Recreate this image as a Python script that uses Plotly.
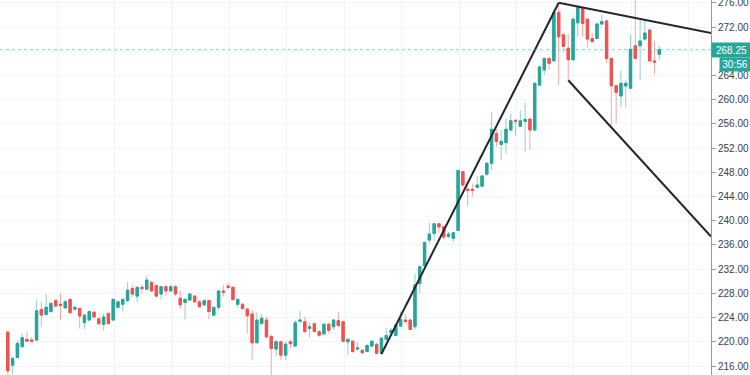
import plotly.graph_objects as go

opens = [221.6, 216.15, 217.4, 219.2, 220.4, 220.3, 220.29, 225.36, 224.5, 225.0,
         226.8, 226.2, 225.6, 227.0, 225.4, 225.5, 223.15, 223.6, 224.9, 223.8,
         222.9, 224.7, 223.6, 225.7, 226.2, 226.8, 228.8, 227.55, 229.0, 228.7,
         229.8, 229.3, 227.9, 229.1, 228.4, 229.1, 227.2, 226.5, 226.9, 227.55,
         226.6, 226.1, 226.8, 224.4, 225.7, 228.4, 229.2, 229.0, 226.2, 226.2,
         225.4, 224.6, 219.85, 223.0, 223.6, 220.9, 218.8, 220.0, 217.8, 220.0,
         219.3, 223.4, 223.3, 222.2, 223.0, 221.7, 221.3, 222.9, 222.5, 223.5,
         223.3, 220.0, 220.1, 218.8, 218.6, 218.4, 219.3, 219.6, 218.1, 220.4,
         221.5, 221.05, 222.6, 223.6, 223.6, 222.5, 229.6, 232.6, 236.8, 237.9,
         239.5, 239.0, 237.4, 237.1, 238.4, 248.1, 245.2, 245.2, 245.5, 245.7,
         247.7, 249.5, 254.4, 252.6, 252.9, 255.0, 256.6, 255.6, 256.4, 256.8,
         255.0, 262.4, 264.9, 266.8, 266.4, 274.4, 270.7, 268.5, 266.6, 272.7,
         275.2, 273.3, 270.1, 270.1, 272.5, 273.0, 266.8, 262.3, 260.6, 262.25,
         261.9, 268.9, 268.9, 270.0, 271.5, 266.4, 267.5]
highs = [221.8, 217.6, 220.2, 221.4, 221.7, 220.8, 226.9, 226.6, 227.9, 226.6,
         227.0, 228.0, 227.0, 227.2, 225.9, 225.6, 224.7, 225.1, 225.0, 224.0,
         224.7, 224.8, 227.2, 226.8, 227.2, 229.9, 229.4, 229.1, 229.4, 231.0,
         230.1, 229.4, 229.2, 229.5, 229.5, 229.4, 228.4, 227.3, 228.0, 227.7,
         226.8, 227.0, 226.9, 225.8, 228.55, 229.4, 229.7, 229.1, 227.2, 226.45,
         225.5, 225.3, 224.9, 224.6, 224.1, 221.1, 220.3, 220.1, 220.0, 220.4,
         223.6, 225.1, 224.1, 223.2, 223.1, 221.9, 223.1, 223.2, 223.7, 224.9,
         223.3, 220.6, 220.2, 219.9, 218.8, 219.6, 220.3, 219.7, 220.8, 222.3,
         222.3, 223.0, 225.0, 224.6, 223.8, 231.3, 232.6, 236.6, 239.7, 239.7,
         239.6, 239.1, 238.2, 238.2, 248.4, 248.2, 245.9, 246.2, 247.4, 247.6,
         249.6, 258.0, 255.1, 255.0, 256.9, 257.7, 256.75, 258.2, 259.5, 256.9,
         262.8, 265.6, 267.0, 267.0, 274.7, 276.0, 271.0, 270.8, 273.4, 275.4,
         275.4, 273.4, 271.0, 272.7, 274.0, 273.2, 267.0, 262.4, 264.8, 263.2,
         270.7, 276.4, 273.2, 273.0, 271.6, 269.7, 268.9]
lows = [214.6, 214.6, 217.3, 218.9, 220.0, 220.0, 220.2, 222.5, 224.4, 224.8,
        225.8, 223.6, 225.5, 224.7, 225.2, 222.2, 222.1, 223.5, 224.0, 222.8,
        221.9, 222.9, 223.5, 225.5, 225.0, 226.6, 227.45, 226.6, 228.0, 228.55,
        228.3, 227.3, 227.0, 227.6, 228.3, 227.55, 225.5, 223.7, 226.8, 226.45,
        225.7, 225.9, 223.7, 224.3, 225.2, 227.45, 228.6, 226.8, 225.6, 225.3,
        221.4, 217.0, 219.7, 222.9, 220.7, 214.5, 217.6, 217.0, 217.0, 218.9,
        219.2, 223.2, 221.4, 220.7, 221.6, 220.8, 221.1, 221.3, 222.0, 222.4,
        219.95, 217.8, 218.2, 218.5, 218.0, 218.3, 219.1, 218.0, 217.9, 220.2,
        221.3, 220.9, 222.5, 223.1, 221.9, 222.0, 228.0, 232.4, 236.2, 236.7,
        238.0, 236.9, 237.1, 236.4, 238.3, 245.7, 242.4, 244.0, 245.3, 245.5,
        247.4, 248.4, 252.2, 250.0, 251.1, 254.7, 253.9, 255.5, 251.4, 251.7,
        254.7, 262.3, 264.1, 264.9, 266.3, 262.4, 267.9, 263.2, 266.4, 270.4,
        270.4, 268.5, 269.4, 270.0, 272.3, 266.0, 255.5, 256.1, 258.8, 258.7,
        261.7, 266.7, 263.2, 269.7, 266.3, 264.2, 266.5]
closes = [215.2, 217.26, 219.74, 220.67, 220.1, 220.1, 225.13, 224.42, 225.7, 226.35,
          225.9, 226.0, 226.6, 224.8, 225.7, 224.25, 224.4, 225.0, 224.1, 223.0,
          224.1, 223.0, 227.0, 226.6, 227.0, 228.55, 227.9, 229.0, 228.8, 230.2,
          228.4, 227.55, 229.1, 228.4, 229.1, 227.9, 226.1, 227.0, 227.9, 226.6,
          225.8, 226.8, 225.0, 225.7, 228.4, 228.2, 229.0, 227.0, 227.0, 225.5,
          224.3, 219.85, 223.6, 223.9, 220.8, 218.9, 220.0, 217.8, 219.6, 219.7,
          223.15, 223.6, 221.7, 222.5, 221.7, 221.1, 222.9, 221.9, 223.6, 222.7,
          220.1, 220.4, 218.4, 219.0, 218.2, 219.4, 220.1, 218.1, 220.6, 221.05,
          221.9, 222.8, 223.7, 223.35, 222.05, 229.4, 232.4, 236.4, 237.8, 239.5,
          239.0, 237.3, 237.8, 238.0, 248.3, 245.9, 245.0, 245.0, 245.9, 247.4,
          249.5, 255.1, 253.1, 253.1, 255.1, 256.5, 256.4, 256.5, 256.75, 255.0,
          262.7, 265.4, 266.8, 266.0, 274.4, 270.4, 268.8, 266.6, 273.3, 275.2,
          272.6, 270.0, 269.6, 272.5, 272.9, 266.8, 262.3, 261.2, 262.7, 262.7,
          268.3, 266.8, 269.7, 271.0, 266.4, 266.2, 268.25]

bars_x = list(range(len(opens)))
price_ticks = [216, 220, 224, 228, 232, 236, 240, 244, 248, 252, 256, 260, 264, 268, 272, 276]
# the 268.00 label is hidden under the last-price tag in the reference
price_tick_text = ["" if v == 268 else f"{v:.2f}" for v in price_ticks]
last_price = 268.25
countdown = "30:56"
# trend lines: (bar index, price) pairs
trend_up = [(78, 218.0), (115, 276.0)]
trend_top = [(115, 276.0), (146.8, 271.0)]
trend_low = [(117, 263.2), (146.8, 237.4)]

UP = "#26a69a"
DN = "#ef5350"
UP_W = "rgba(38,166,154,0.5)"
DN_W = "rgba(239,83,80,0.5)"

body_hi = [max(o, c) for o, c in zip(opens, closes)]
body_lo = [min(o, c) for o, c in zip(opens, closes)]

fig = go.Figure()
fig.add_trace(go.Candlestick(
    x=bars_x, open=opens, high=highs, low=lows, close=closes,
    increasing=dict(line=dict(color=UP_W, width=1), fillcolor=UP_W),
    decreasing=dict(line=dict(color=DN_W, width=1), fillcolor=DN_W),
    whiskerwidth=0, showlegend=False, hoverinfo="skip"))
fig.add_trace(go.Candlestick(
    x=bars_x, open=opens, high=body_hi, low=body_lo, close=closes,
    increasing=dict(line=dict(color=UP, width=1), fillcolor=UP),
    decreasing=dict(line=dict(color=DN, width=1), fillcolor=DN),
    whiskerwidth=0, showlegend=False))

for seg in (trend_up, trend_top, trend_low):
    fig.add_shape(type="line", xref="x", yref="y",
                  x0=seg[0][0], y0=seg[0][1], x1=seg[1][0], y1=seg[1][1],
                  line=dict(color="#23262f", width=2))

fig.add_shape(type="line", xref="paper", yref="y", x0=0, x1=1,
              y0=last_price, y1=last_price,
              line=dict(color="rgba(38,166,154,0.55)", width=1, dash="dot"))

fig.add_annotation(x=1, xref="paper", y=last_price, yref="y", xanchor="left",
                   text=f"{last_price:.2f}", showarrow=False, bgcolor=UP,
                   font=dict(color="white", size=10, family="Liberation Sans"),
                   width=37, height=12, borderpad=1, xshift=0)
fig.add_annotation(x=1, xref="paper", y=last_price, yref="y", xanchor="left",
                   text=countdown, showarrow=False, bgcolor=UP,
                   font=dict(color="white", size=10, family="Liberation Sans"),
                   width=28, height=11, borderpad=1, xshift=8, yshift=-15)

grid_x = [10.35 + 11.98 * k for k in range(13)]

fig.update_layout(
    width=750, height=375,
    margin=dict(l=0, r=39, t=0, b=0, autoexpand=False),
    paper_bgcolor="white", plot_bgcolor="white",
    showlegend=False,
    xaxis=dict(range=[-1.63, 146.8], rangeslider=dict(visible=False),
               tickvals=grid_x, showticklabels=False, ticks="",
               showgrid=True, gridcolor="#f0f3fa", gridwidth=1, zeroline=False,
               showline=False),
    yaxis=dict(side="right", range=[214.52, 276.46], tickvals=price_ticks,
               ticktext=price_tick_text, ticklabeloverflow="allow",
               ticks="outside", ticklen=4, tickcolor="#9598a1",
               showline=True, linecolor="#9598a1", linewidth=1,
               showgrid=True, gridcolor="#f0f3fa", gridwidth=1, zeroline=False,
               tickfont=dict(family="Liberation Sans", size=10, color="#3a3e48")),
)

fig.write_html("out.html", config={"displayModeBar": False},
               post_script="document.body.style.margin='0';document.body.style.padding='0';")
